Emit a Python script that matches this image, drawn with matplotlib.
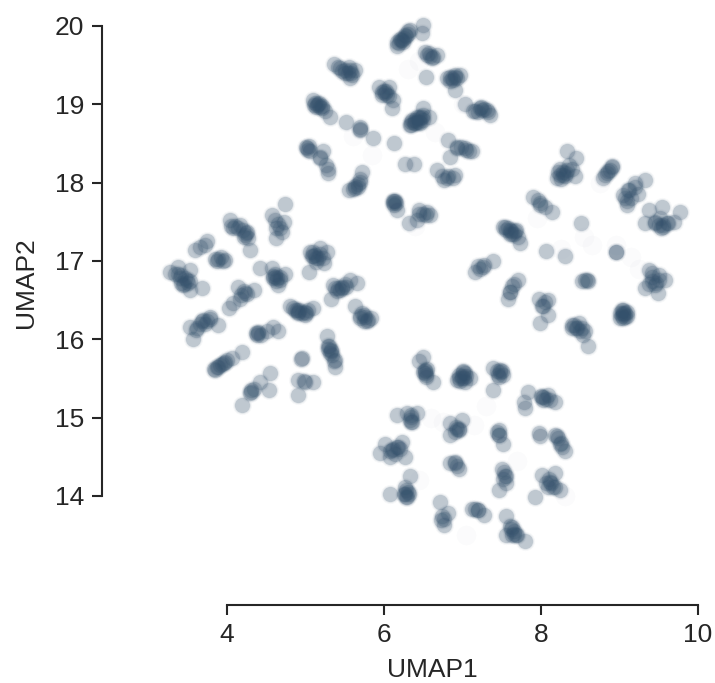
import matplotlib
matplotlib.use("Agg")
import matplotlib.pyplot as plt

plt.rcParams['font.family'] = ['Liberation Sans', 'DejaVu Sans']

# top island
top_x = [6.50,6.48,6.33,6.27,6.23,6.16,6.20,6.31, 6.52,6.61,6.67,6.57, 6.54,
         6.80,6.91,6.97,6.88,6.91,6.84, 7.03,7.14,7.24,7.31,7.35,7.22,
         5.36,5.44,5.55,5.63,5.57,5.50,5.59, 5.93,6.06,6.01,6.12,6.10,5.97,
         6.35,6.44,6.50,6.57,6.50,6.40,6.33,6.46,6.42, 5.10,5.16,5.21,5.31,5.14,5.25,
         5.52,5.70,5.70,5.86,6.13,6.27,6.38, 6.82,6.93,7.03,7.12,6.84,
         6.67,6.76,6.91,6.82, 5.02,5.22,5.19,5.29,5.29,5.00,
         5.72,5.70,5.67,5.55,5.63, 6.14,6.12,6.16, 6.44,6.59,6.42,6.32,6.54]
top_y = [20.01,19.91,19.95,19.88,19.82,19.74,19.84,19.93, 19.67,19.59,19.63,19.65, 19.35,
         19.33,19.37,19.37,19.31,19.18,19.35, 19.00,18.91,18.97,18.93,18.86,18.95,
         19.52,19.46,19.48,19.44,19.33,19.40,19.37, 19.22,19.22,19.14,19.05,18.95,19.16,
         18.78,18.84,18.95,18.84,18.80,18.76,18.74,18.82,18.78, 19.06,19.01,18.95,18.84,18.97,18.91,
         18.78,18.71,18.67,18.57,18.50,18.24,18.24, 18.54,18.46,18.44,18.40,18.33,
         18.16,18.03,18.10,18.08, 18.44,18.40,18.31,18.18,18.12,18.46,
         18.13,18.05,17.95,17.91,17.93, 17.76,17.74,17.65, 17.65,17.59,17.52,17.48,17.59]

# left island
left_x = [4.74,4.57,4.72,4.63,4.63,4.70, 4.04,4.08,4.17,4.25,4.27,4.29,4.23,
          3.59,3.74,3.66,3.85,3.97,3.89, 3.38,3.27,3.53,3.49,3.40,3.44,3.53,3.68,3.34,
          5.06,5.18,5.27,5.14,5.23,5.04,5.10, 4.42,4.57,4.74,4.61,4.65,4.59,4.67,
          4.14,4.34,4.23,4.17,4.02,4.08, 5.35,5.57,5.65,5.44,5.52,5.33,5.46,
          5.63,5.74,5.84,5.78,5.69, 4.80,4.89,4.99,5.10,4.99,4.91,
          3.78,3.68,3.89,3.53,3.57,3.61,3.72, 4.40,4.59,4.65,4.51,4.38,
          4.19,4.06,3.93,3.85,3.98,3.89, 5.27,5.29,5.31,5.38,5.38,5.33,
          4.95,4.99,5.10,4.91,4.91, 4.55,4.42,4.53,4.31,4.29,4.19]
left_y = [17.73,17.59,17.50,17.42,17.29,17.37, 17.52,17.42,17.46,17.37,17.29,17.14,17.33,
          17.14,17.25,17.18,17.03,17.01,17.03, 16.92,16.86,16.89,16.76,16.78,16.69,16.63,16.66,16.84,
          17.12,17.16,17.12,17.04,16.97,16.86,17.06, 16.91,16.91,16.84,16.80,16.69,16.78,16.76,
          16.67,16.63,16.59,16.52,16.40,16.46, 16.69,16.76,16.72,16.63,16.67,16.52,16.65,
          16.42,16.31,16.27,16.23,16.27, 16.42,16.38,16.35,16.40,16.31,16.35,
          16.29,16.23,16.18,16.16,16.01,16.12,16.20, 16.08,16.16,16.10,16.10,16.06,
          15.84,15.76,15.69,15.61,15.71,15.65, 16.04,15.91,15.82,15.74,15.65,15.86,
          15.76,15.46,15.46,15.48,15.29, 15.57,15.46,15.35,15.35,15.31,15.16]

# right island
right_x = [8.33,8.45,8.24,8.33,8.43,8.20,8.28,8.39, 8.90,8.84,8.79,8.88,
           9.33,9.20,9.11,9.05,9.09,9.24,9.15, 7.90,7.99,8.14,8.05,
           9.77,9.54,9.37,9.32,9.45,9.56,9.62,9.52,9.69, 8.51,
           7.54,7.61,7.67,7.71,7.73,7.63, 8.07,8.31, 8.95,8.95,
           7.39,7.27,7.16,7.20, 7.71,7.60,7.58,7.65, 8.58,8.52,
           9.37,9.50,9.58,9.41,9.32,9.49,9.45, 7.97,8.09,8.01,8.09,7.99,
           9.05,9.07,9.01,9.09,9.03, 8.39,8.48,8.56,8.52,8.60,8.45]
right_y = [18.40,18.31,18.18,18.16,18.08,18.06,18.10,18.18, 18.21,18.12,18.06,18.16,
           18.03,17.99,17.91,17.84,17.72,17.86,17.80, 17.82,17.74,17.63,17.69,
           17.62,17.69,17.65,17.48,17.50,17.46,17.48,17.55,17.50, 17.48,
           17.44,17.40,17.38,17.31,17.23,17.35, 17.13,17.07, 17.12,17.12,
           17.00,16.95,16.86,16.93, 16.76,16.61,16.52,16.71, 16.76,16.74,
           16.89,16.82,16.76,16.80,16.65,16.59,16.69, 16.52,16.50,16.42,16.31,16.21,
           16.33,16.29,16.27,16.35,16.38, 16.18,16.21,16.10,16.14,15.91,16.14]

# bottom island
bottom_x = [6.50,6.44,6.52,6.54,6.63,6.52, 7.01,6.95,7.03,6.93,7.03,6.99,7.10,
            7.39,7.48,7.52,7.46,7.39, 7.84,8.01,8.09,8.18,7.78,7.80,8.03,
            6.16,6.29,6.42,6.35,6.35, 6.84,6.99,6.93,6.84,6.95, 7.46,7.46,7.52,
            7.99,8.20,8.24,8.31,7.97, 6.01,6.23,5.95,6.10,6.27,6.08,6.18,
            6.90,6.84,6.95, 7.50,7.54,7.56,7.46, 6.33,6.27,6.08,6.27,6.29,
            8.01,8.18,8.11,8.18,8.24,7.92,8.09, 6.71,6.82,6.73,6.76,
            7.12,7.20,7.27, 7.56,7.63,7.65,7.56,7.80,7.69]
bottom_y = [15.78,15.72,15.61,15.52,15.46,15.57, 15.59,15.50,15.46,15.48,15.57,15.50,15.50,
            15.63,15.61,15.55,15.52,15.35, 15.33,15.27,15.29,15.20,15.20,15.12,15.23,
            15.03,15.06,15.06,14.95,15.01, 14.93,14.97,14.86,14.78,14.84, 14.84,14.78,14.67,
            14.76,14.76,14.67,14.57,14.80, 14.67,14.69,14.55,14.59,14.50,14.50,14.63,
            14.44,14.42,14.35, 14.35,14.25,14.16,14.08, 14.25,14.12,14.03,14.03,13.99,
            14.27,14.29,14.18,14.12,14.08,13.99,14.12, 13.92,13.78,13.69,13.63,
            13.84,13.82,13.76, 13.74,13.61,13.52,13.50,13.42,13.50]

# dark middles of the clumps, read separately
core_x = [6.22,6.25,6.28,6.19,6.30,6.17,6.24, 6.58,6.55,6.62, 6.90,6.87,6.93,6.84,
          7.28,7.25,7.16,7.32,7.20, 5.50,5.54,5.58,5.46,5.42,5.57, 6.00,6.04,5.98,6.07,6.03,
          6.40,6.44,6.48,6.38,6.36,6.50,6.42,6.35,6.46, 5.12,5.15,5.18,5.11,5.17,5.21,
          5.03,5.06,5.18,5.26,5.04, 5.67,5.63,5.69,5.60, 6.13,6.15,6.12,6.13,
          6.55,6.50,6.45, 6.93,6.98,7.05,7.08, 6.74,6.80,6.88, 5.70,
          4.65,4.67,4.61, 4.10,4.14,4.20,4.24,4.05,4.22, 3.92,3.87,3.95,3.72,
          3.42,3.46,3.50,3.37,3.45,3.53,3.41, 5.12,5.16,5.08,5.18,5.10,5.14,5.22,
          4.61,4.64,4.58,4.67,4.62, 4.22,4.25,4.18, 5.42,5.46,5.40,5.50,5.38,
          5.72,5.76,5.70,5.80,5.74, 4.86,4.92,4.96,5.00,4.90,4.84,5.03,
          3.70,3.66,3.74,3.62,3.78, 4.40,4.43,4.37, 3.87,3.91,3.96,3.84,4.00,
          5.30,5.32,5.34,5.36,5.29, 4.31,4.34, 4.98,4.94,
          8.28,8.24,8.32,8.26,8.30,8.22,8.36, 8.85,8.82,8.90, 9.09,9.12,9.20,9.07,
          7.99,7.96, 9.50,9.56,9.60,9.45,9.53, 7.58,7.62,7.66,7.56,7.60,7.68,7.52,
          7.26,7.22,7.60,7.63, 8.56,8.60, 9.42,9.46,9.38,9.50,9.41, 8.03,8.05,
          9.05,9.07,9.03,9.05,9.09,9.01,9.05, 8.42,8.46,8.50,8.54,8.40,
          6.52,6.54,6.50,6.55, 6.99,7.02,6.97,7.05,7.00,6.96, 7.48,7.45,7.50,7.44,
          8.03,8.07,8.00,8.12, 6.35,6.33,6.36, 6.92,6.95,6.90, 7.47,7.44,
          8.22,8.25,8.27,8.18, 6.12,6.16,6.08,6.14,6.20, 6.90,6.93, 7.53,7.52,7.55,
          6.28,6.30,6.25,6.32,6.28, 8.10,8.13,8.07,8.15, 6.74,6.76, 7.20,7.16,
          7.62,7.65,7.60,7.68,7.63]
core_y = [19.82,19.85,19.87,19.78,19.90,19.80,19.80, 19.62,19.63,19.60, 19.35,19.34,19.34,19.30,
          18.94,18.93,18.92,18.90,18.90, 19.44,19.40,19.40,19.43,19.48,19.44, 19.17,19.12,19.12,19.10,19.17,
          18.80,18.78,18.84,18.76,18.80,18.86,18.84,18.74,18.76, 19.02,18.99,18.96,18.99,19.02,18.98,
          18.42,18.40,18.33,18.23,18.47, 17.98,17.96,18.01,17.92, 17.77,17.74,17.77,17.71,
          17.62,17.60,17.60, 18.44,18.46,18.42,18.40, 18.08,18.06,18.06, 18.69,
          17.47,17.42,17.52, 17.45,17.42,17.40,17.36,17.45,17.30, 17.05,17.00,17.00,17.20,
          16.82,16.78,16.72,16.84,16.70,16.75,16.72, 17.08,17.04,17.06,17.09,17.12,16.99,17.04,
          16.83,16.78,16.81,16.80,16.74, 16.62,16.58,16.56, 16.66,16.67,16.62,16.70,16.65,
          16.33,16.28,16.30,16.25,16.24, 16.38,16.37,16.34,16.33,16.34,16.40,16.37,
          16.25,16.20,16.24,16.15,16.26, 16.09,16.06,16.08, 15.65,15.67,15.70,15.62,15.74,
          15.92,15.85,15.80,15.72,15.88, 15.33,15.36, 15.47,15.75,
          18.13,18.10,18.12,18.05,18.08,18.14,18.22, 18.15,18.10,18.20, 17.76,17.90,17.95,17.80,
          17.72,17.78, 17.46,17.44,17.48,17.48,17.42, 17.42,17.38,17.34,17.40,17.34,17.40,17.44,
          16.92,16.90,16.60,16.68, 16.76,16.74, 16.75,16.72,16.70,16.76,16.85, 16.42,16.48,
          16.32,16.33,16.30,16.27,16.30,16.33,16.37, 16.18,16.15,16.10,16.06,16.15,
          15.60,15.55,15.58,15.62, 15.53,15.50,15.47,15.53,15.58,15.55, 15.58,15.55,15.60,15.60,
          15.26,15.24,15.28,15.22, 15.03,14.97,14.95, 14.88,14.85,14.82, 14.78,14.82,
          14.74,14.68,14.63,14.78, 14.60,14.62,14.58,14.54,14.60, 14.42,14.38, 14.30,14.22,14.25,
          14.08,14.05,14.02,14.03,13.99, 14.22,14.16,14.17,14.12, 13.74,13.70, 13.82,13.84,
          13.58,13.55,13.62,13.50,13.50]

# very pale points behind the islands
pale_x = [6.45,6.30,5.60,6.65,7.00,5.85,6.40, 8.55,8.65,8.25,8.95,9.15,8.75,9.25,7.95,
          6.60,6.75,7.30,7.15,6.20,6.45,7.70,8.30, 7.05]
pale_y = [19.55,19.45,18.60,18.65,19.00,18.35,17.45, 17.30,17.20,17.15,17.20,17.05,18.00,16.90,17.55,
          15.00,14.95,15.15,14.90,14.60,14.20,14.45,14.00, 13.50]

xticks = [4, 6, 8, 10]
yticks = [14, 15, 16, 17, 18, 19, 20]
dot_color = '#34516c'

fig = plt.figure(figsize=(7.15, 6.83), dpi=100)
ax = fig.add_axes([102/715, 1-605/683, (698-102)/715, (605-26)/683])
ax.scatter(pale_x, pale_y, s=200, c=dot_color, alpha=0.018, linewidths=0, clip_on=False)

all_x = top_x + left_x + right_x + bottom_x + core_x
all_y = top_y + left_y + right_y + bottom_y + core_y
# soft rim, then the dot itself
ax.scatter(all_x, all_y, s=190, c=dot_color, alpha=0.04, linewidths=0, clip_on=False)
ax.scatter(all_x, all_y, s=150, c=dot_color, alpha=0.08, linewidths=0, clip_on=False)
ax.scatter(all_x, all_y, s=120, c=dot_color, alpha=0.22, linewidths=0, clip_on=False)

ax.set_xlim(4 - 125/78.5, 10)
ax.set_ylim(14 - 109/78.33, 20)
ax.set_xticks(xticks)
ax.set_yticks(yticks)
ax.tick_params(labelsize=19, colors='#262626', length=7, width=1.5, pad=6)
ax.set_xlabel("UMAP1", fontsize=19, color='#262626')
ax.set_ylabel("UMAP2", fontsize=19, color='#262626')
ax.xaxis.set_label_coords(0.555, -0.092, transform=ax.transAxes)
ax.yaxis.set_label_coords(-0.107, 0.556, transform=ax.transAxes)

ax.spines['top'].set_visible(False)
ax.spines['right'].set_visible(False)
for side in ['left', 'bottom']:
    ax.spines[side].set_color('#262626')
    ax.spines[side].set_linewidth(1.5)
ax.spines['bottom'].set_bounds(4, 10)
ax.spines['left'].set_bounds(14, 20)

fig.savefig("out.png", dpi=100)
